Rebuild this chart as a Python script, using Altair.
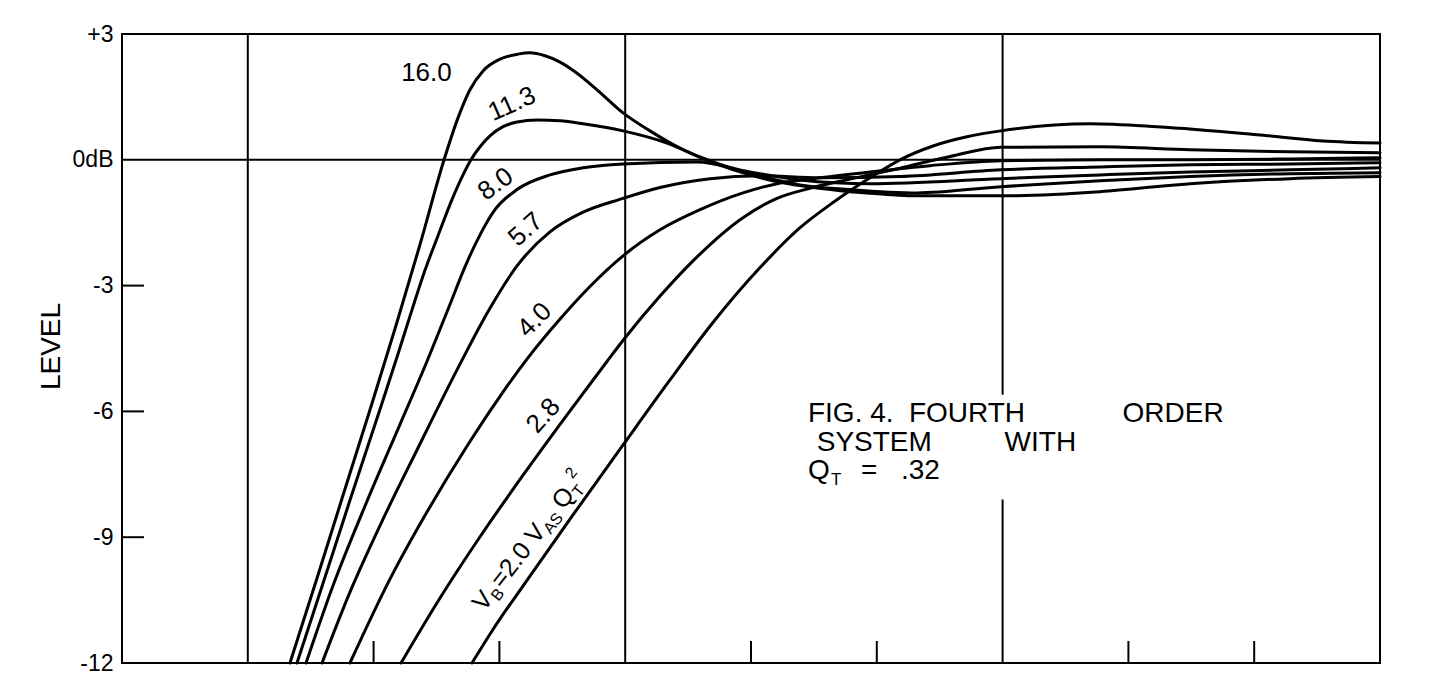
import altair as alt
import pandas as pd

# ---------------- data (x: position in 1/3-octave steps, y: level in dB) ----------------
SERIES = ["16.0", "11.3", "8.0", "5.7", "4.0", "2.8", "2.0"]

X_160 = [1.335, 1.550, 1.757, 1.987, 2.178, 2.369, 2.560, 2.671, 2.766, 2.870, 3.005, 3.148, 3.243, 3.362,
         3.482, 3.601, 3.776, 3.983, 4.197, 4.459, 4.730, 4.992, 5.254, 5.525, 5.922, 6.320, 6.987, 7.774,
         8.490, 9.285, 10.0]
Y_160 = [-12.0, -9.98, -8.0, -5.81, -3.95, -2.02, 0.0, 1.0, 1.67, 2.12, 2.40, 2.52, 2.55, 2.48,
         2.33, 2.10, 1.67, 1.12, 0.69, 0.24, -0.10, -0.36, -0.55, -0.67, -0.79, -0.86, -0.86, -0.76,
         -0.57, -0.45, -0.40]

X_113 = [1.391, 1.598, 1.812, 2.051, 2.194, 2.305, 2.409, 2.512, 2.623, 2.711, 2.774, 2.846, 2.925, 3.029,
         3.140, 3.299, 3.482, 3.665, 3.983, 4.332, 4.595, 4.857, 5.127, 5.390, 5.787, 6.320, 6.987, 7.774,
         8.490, 9.285, 10.0]
Y_113 = [-12.0, -10.10, -8.12, -5.95, -4.63, -3.58, -2.63, -1.81, -0.95, -0.36, 0.0, 0.31, 0.57, 0.79,
         0.90, 0.95, 0.93, 0.86, 0.69, 0.40, 0.07, -0.21, -0.43, -0.60, -0.71, -0.79, -0.64, -0.50,
         -0.40, -0.33, -0.31]

X_80 = [1.463, 1.677, 1.948, 2.210, 2.424, 2.607, 2.734, 2.846, 2.965, 3.140, 3.402, 3.665, 3.983, 4.571,
        4.992, 5.390, 5.946, 6.987, 7.774, 8.490, 9.285, 10.0]
Y_80 = [-12.0, -10.16, -8.14, -6.31, -4.81, -3.45, -2.50, -1.79, -1.19, -0.71, -0.36, -0.19, -0.10, -0.05,
        -0.29, -0.48, -0.57, -0.45, -0.36, -0.29, -0.24, -0.19]

X_57 = [1.590, 1.812, 2.075, 2.345, 2.663, 2.925, 3.140, 3.402, 3.665, 3.983, 4.277, 4.674, 5.072, 5.548,
        6.184, 6.987, 7.774, 8.490, 9.285, 10.0]
Y_57 = [-12.0, -10.31, -8.57, -6.92, -5.01, -3.54, -2.53, -1.72, -1.25, -0.92, -0.66, -0.45, -0.38, -0.43,
        -0.40, -0.24, -0.17, -0.12, -0.10, -0.07]

X_40 = [1.812, 2.130, 2.424, 2.742, 3.005, 3.267, 3.458, 3.720, 3.983, 4.277, 4.595, 4.936, 5.207, 5.548,
        5.946, 6.423, 6.987, 7.774, 8.490, 9.285, 10.0]
Y_40 = [-12.0, -10.0, -8.40, -6.83, -5.64, -4.57, -3.88, -3.02, -2.29, -1.67, -1.19, -0.79, -0.57, -0.43,
        -0.29, -0.14, -0.02, 0.0, 0.0, 0.02, 0.05]

X_28 = [2.218, 2.528, 2.846, 3.188, 3.585, 3.855, 3.990, 4.277, 4.539, 4.936, 5.207, 5.469, 5.787, 6.184,
        6.582, 6.987, 7.774, 8.490, 9.285, 10.0]
Y_28 = [-12.0, -10.45, -8.99, -7.52, -5.89, -4.81, -4.28, -3.25, -2.41, -1.38, -0.92, -0.68, -0.46, -0.20,
        0.08, 0.30, 0.31, 0.24, 0.19, 0.17]

X_20 = [2.782, 2.949, 3.219, 3.585, 3.983, 4.356, 4.674, 5.072, 5.390, 5.652, 5.946, 6.184, 6.447, 6.717,
        6.987, 7.695, 8.227, 9.022, 9.547, 10.0]
Y_20 = [-12.0, -11.20, -10.03, -8.47, -6.80, -5.25, -3.97, -2.57, -1.62, -1.02, -0.43, 0.0, 0.33, 0.55,
        0.69, 0.86, 0.79, 0.60, 0.45, 0.40]

Y_TICKS = [3, 0, -3, -6, -9, -12]
GRID_X = [1, 4, 7, 7]
GRID_TOP = [3, 3, 3, -8.1]
GRID_BOTTOM = [-12, -12, -5.6, -12]
MINOR_X = [2, 3, 5, 6, 8, 9]
LEFT_TICK_Y = [-3, -6, -9]

# ---------------- build tables ----------------
XS = [X_160, X_113, X_80, X_57, X_40, X_28, X_20]
YS = [Y_160, Y_113, Y_80, Y_57, Y_40, Y_28, Y_20]
rows = []
for name, xv, yv in zip(SERIES, XS, YS):
    for i, (a, b) in enumerate(zip(xv, yv)):
        rows.append({"series": name, "i": i, "x": a, "y": b})
curves = pd.DataFrame(rows)

W, H = 1258, 629
FONT = "Liberation Sans"
xs = alt.Scale(domain=[0, 10], nice=False, zero=False)
ys = alt.Scale(domain=[-12, 3], nice=False, zero=False)

YAX = alt.Axis(
    values=Y_TICKS,
    labelExpr="datum.value == 0 ? '0dB' : (datum.value > 0 ? '+' + datum.value : '-' + abs(datum.value))",
    ticks=False, domain=False, grid=False,
    labelFont=FONT, labelFontSize=23, labelColor="black", labelPadding=9,
    title="LEVEL", titleFont=FONT, titleFontSize=28, titleFontWeight="normal",
    titleColor="black", titleAngle=270, titleAlign="center", titleBaseline="middle",
    titleX=-71, titleY=312,
)


def X(field):
    return alt.X(field, scale=xs, axis=None)


def Y(field):
    return alt.Y(field, scale=ys, axis=YAX)


lines = alt.Chart(curves).mark_line(
    color="black", strokeWidth=3, interpolate="monotone", strokeCap="round", strokeJoin="round"
).encode(
    x=X("x:Q"), y=Y("y:Q"), detail="series:N", order="i:Q",
)

grid = alt.Chart(pd.DataFrame({"gx": GRID_X, "top": GRID_TOP, "bottom": GRID_BOTTOM})).mark_rule(
    color="black", strokeWidth=2
).encode(x=X("gx:Q"), y=Y("top:Q"), y2="bottom:Q")

zero_line = alt.Chart(pd.DataFrame({"zy": [0]})).mark_rule(color="black", strokeWidth=2).encode(
    y=Y("zy:Q"), x=alt.value(0), x2=alt.value(W),
)

minor = alt.Chart(pd.DataFrame({"mx": MINOR_X})).mark_rule(color="black", strokeWidth=2).encode(
    x=X("mx:Q"), y=alt.value(H), y2=alt.value(H - 22),
)

left_ticks = alt.Chart(pd.DataFrame({"ly": LEFT_TICK_Y})).mark_rule(color="black", strokeWidth=2).encode(
    y=Y("ly:Q"), x=alt.value(0), x2=alt.value(22),
)


def label(text, x, y, angle=0, size=26, align="center", baseline="middle", dx=0, dy=0):
    return alt.Chart(pd.DataFrame({"t": [text], "x": [x], "y": [y]})).mark_text(
        font=FONT, fontSize=size, color="black", angle=angle, align=align, baseline=baseline,
        dx=dx, dy=dy,
    ).encode(x=X("x:Q"), y=Y("y:Q"), text="t:N")


texts = [
    label("16.0", 2.42, 2.07),
    label("11.3", 3.10, 1.33, angle=336),
    label("8.0", 2.97, -0.58, angle=324),
    label("5.7", 3.21, -1.66, angle=318),
    label("4.0", 3.28, -3.82, angle=315),
    label("2.8", 3.35, -6.10, angle=312),
]

# V_B = 2.0 V_AS Q_T^2 written along the lowest curve
VB_X, VB_Y, VB_ANG = 2.878, -10.79, 308
M, S = 25, 16
pieces = [("V", M, 0, 0), ("B", S, 17, 5), ("=2.0 V", M, 29, 0), ("AS", S, 102, 5),
          ("Q", M, 129, 0), ("T", S, 149, 5), ("2", S, 159, -12)]
for t, sz, ddx, ddy in pieces:
    texts.append(label(t, VB_X, VB_Y, angle=VB_ANG, size=sz, align="left", baseline="alphabetic",
                       dx=ddx, dy=ddy))

# caption
CAP = 28
texts += [
    label("FIG. 4.", 5.453, -6.26, size=CAP, align="left", baseline="alphabetic"),
    label("FOURTH", 6.717, -6.26, size=CAP, baseline="alphabetic"),
    label("ORDER", 8.355, -6.26, size=CAP, baseline="alphabetic"),
    label("SYSTEM", 5.98, -6.95, size=CAP, baseline="alphabetic"),
    label("WITH", 7.30, -6.95, size=CAP, baseline="alphabetic"),
    label("Q", 5.453, -7.62, size=CAP, align="left", baseline="alphabetic"),
    label("T", 5.453, -7.62, size=17, align="left", baseline="alphabetic", dx=23, dy=6),
    label("=", 5.453, -7.62, size=CAP, align="left", baseline="alphabetic", dx=53),
    label(".32", 5.453, -7.62, size=CAP, align="left", baseline="alphabetic", dx=93),
]

chart = alt.layer(lines, grid, zero_line, minor, left_ticks, *texts).properties(
    width=W, height=H,
    autosize=alt.AutoSizeParams(type="none"),
    padding={"left": 114, "top": 26, "right": 40, "bottom": 14},
    background="white",
).configure(
    font=FONT,
    view=alt.ViewConfig(stroke="black", strokeWidth=2),
)

chart.save("out.html", embed_options={"renderer": "svg", "actions": False})
